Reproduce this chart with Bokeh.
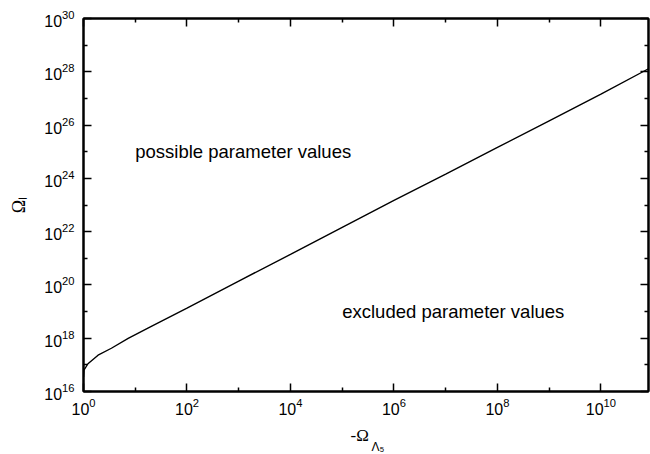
from bokeh.plotting import figure
from bokeh.models import Range1d, FixedTicker, LogAxis, Label, CustomJSTickFormatter
from bokeh.core.properties import value
from bokeh.embed import file_html
from bokeh.resources import INLINE

# ---- data ----
omega_lambda5 = [1.0, 1.02, 1.22, 1.91, 3.46, 7.3, 20, 100, 1e3, 1e4, 1e5, 1e6,
                 1e7, 1e8, 1e9, 1e10, 8.3e10]
omega_l = [3.5e16, 6.3e16, 1.1e17, 2.3e17, 4.2e17, 9.8e17, 2.7e18, 1.35e19,
           1.4e20, 1.4e21, 1.45e22, 1.5e23, 1.45e24, 1.45e25, 1.45e26, 1.45e27, 1.3e28]

x_major = [1e0, 1e2, 1e4, 1e6, 1e8, 1e10]
x_minor = [1e1, 1e3, 1e5, 1e7, 1e9, 1e11]
y_major = [1e16, 1e18, 1e20, 1e22, 1e24, 1e26, 1e28, 1e30]
y_minor = [1e17, 1e19, 1e21, 1e23, 1e25, 1e27, 1e29]

region_text = ["possible parameter values", "excluded parameter values"]
region_x = [1e1, 1e5]
region_y = [1e25, 1e19]

FONT = "Liberation Sans"
SERIF = "Liberation Serif"

p = figure(width=650, height=454, x_axis_type="log", y_axis_type="log",
           x_range=Range1d(1, 8.3e10), y_range=Range1d(1e16, 1e30),
           output_backend="svg", toolbar_location=None,
           min_border_left=83, min_border_right=2, min_border_top=18,
           min_border_bottom=63)
p.background_fill_color = "white"
p.border_fill_color = "white"
p.xgrid.visible = False
p.ygrid.visible = False
p.outline_line_color = "black"
p.outline_line_width = 2


def style(ax, labels=True):
    ax.major_tick_in = 8
    ax.major_tick_out = 0
    ax.minor_tick_in = 4
    ax.minor_tick_out = 0
    ax.axis_line_width = 2
    ax.axis_line_color = "black"
    ax.major_tick_line_color = "black"
    ax.minor_tick_line_color = "black"
    ax.major_tick_line_width = 1.5
    ax.minor_tick_line_width = 1.5
    if labels:
        ax.major_label_text_font = FONT
        ax.major_label_text_font_size = "16px"
        ax.major_label_text_color = "black"
    else:
        ax.formatter = CustomJSTickFormatter(code="return ''")
        ax.major_label_standoff = 0


xax = p.xaxis[0]
yax = p.yaxis[0]
style(xax)
style(yax)
xax.major_label_standoff = 6
yax.major_label_standoff = 9
xax.ticker = FixedTicker(ticks=x_major, minor_ticks=x_minor)
yax.ticker = FixedTicker(ticks=y_major, minor_ticks=y_minor)

xax.axis_label = "-Ω\u00a0\u00a0\u00a0"
xax.axis_label_text_font = SERIF
xax.axis_label_text_font_size = "17px"
xax.axis_label_text_font_style = "normal"
xax.axis_label_text_color = "black"
xax.axis_label_standoff = 8

yax.axis_label = "Ωₗ"
yax.axis_label_text_font = SERIF
yax.axis_label_text_font_size = "18px"
yax.axis_label_text_font_style = "normal"
yax.axis_label_text_color = "black"
yax.axis_label_standoff = 12

top = LogAxis(ticker=FixedTicker(ticks=x_major, minor_ticks=x_minor))
style(top, labels=False)
p.add_layout(top, "above")
right = LogAxis(ticker=FixedTicker(ticks=y_major, minor_ticks=y_minor))
style(right, labels=False)
p.add_layout(right, "right")

p.line(omega_lambda5, omega_l, line_color="black", line_width=1.4)

p.text(x=region_x, y=region_y, text=region_text, text_font=value(FONT),
       text_font_size="18.5px", text_baseline="middle", text_align="left",
       text_color="black")

# subscript of the x-axis title, placed from the (slack) top panel
p.add_layout(Label(x=288, y=-435, x_units="screen", y_units="screen", text="Λ₅",
                   text_font=FONT, text_font_size="12px", text_color="black"), "above")

open("out.html", "w").write(file_html(p, INLINE))
